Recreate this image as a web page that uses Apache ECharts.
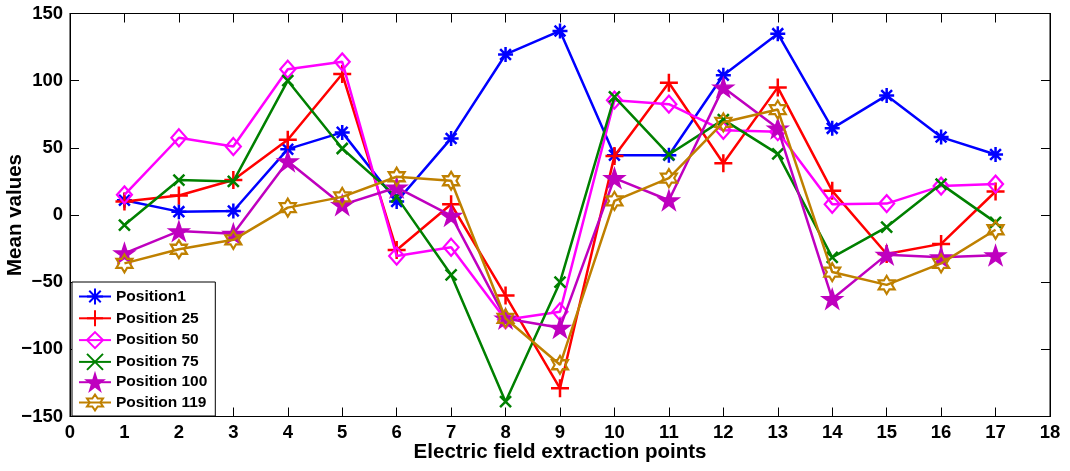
<!DOCTYPE html>
<html>
<head>
<meta charset="utf-8">
<script src="https://cdn.jsdelivr.net/npm/echarts@6/dist/echarts.min.js"></script>
<style>
  html, body { margin: 0; padding: 0; background: #ffffff; }
  #chart { width: 1070px; height: 471px; }
</style>
</head>
<body>
<div id="chart"></div>
<script>
// Electric field extraction points (x positions)
const extractionPoints = [1, 2, 3, 4, 5, 6, 7, 8, 9, 10, 11, 12, 13, 14, 15, 16, 17];

// Mean values per position
const position1   = [11, 2.5, 3, 49, 61.5, 10, 57, 119.5, 137, 44.5, 44.5, 104, 135, 64.5, 89, 58, 45];
const position25  = [10, 14.5, 26, 56, 105, -26, 8, -60, -129, 44, 98.5, 38.5, 95, 18, -29, -21.5, 17.5];
const position50  = [15, 57.5, 51, 108.5, 114, -30.5, -24, -78, -72, 85.5, 82.5, 63, 62, 8, 8.5, 21.5, 23];
const position75  = [-7.5, 26, 25, 100, 49.5, 13.5, -44.5, -139, -50, 88, 45, 71, 45.5, -31.5, -9, 23, -5.5];
const position100 = [-28.5, -12, -14, 40, 7.5, 20.5, -0.5, -77, -84, 27.5, 11, 95, 64.5, -62.5, -29.5, -31.5, -30];
const position119 = [-36, -25.5, -18.5, 5.5, 13.5, 28.5, 25.5, -77, -111.5, 10.5, 27.5, 69, 78.5, -42.5, -52, -36, -11];

const seriesNames = ['Position1', 'Position 25', 'Position 50', 'Position 75', 'Position 100', 'Position 119'];
const seriesValues = [position1, position25, position50, position75, position100, position119];

// Axis ranges / tick steps
const xRange = [0, 18, 1];
const yRange = [-150, 150, 50];

// Marker outlines
function starPath(points, inner, startDeg) {
  const pts = [];
  for (let k = 0; k < points * 2; k++) {
    const r = k % 2 === 0 ? 1 : inner;
    const a = (startDeg + k * 180 / points) * Math.PI / 180;
    pts.push((r * Math.cos(a)).toFixed(4) + ',' + (r * Math.sin(a)).toFixed(4));
  }
  return 'path://M' + pts.join('L') + 'Z';
}
const colors = ['#0000ff', '#ff0000', '#ff00ff', '#008000', '#bf00bf', '#bf8000'];
const markers = [
  { symbol: 'path://M0,-1L0,1M-1,0L1,0M-0.72,-0.72L0.72,0.72M-0.72,0.72L0.72,-0.72', size: [15, 15], fill: 'none', width: 2.5 },
  { symbol: 'path://M0,-1L0,1M-1,0L1,0', size: [18, 18], fill: 'none', width: 2.5 },
  { symbol: 'path://M0,-1L1,0L0,1L-1,0Z', size: [15, 17], fill: 'none', width: 2.2 },
  { symbol: 'path://M-1,-1L1,1M-1,1L1,-1', size: [11, 11], fill: 'none', width: 2.5 },
  { symbol: starPath(5, 0.382, -90), size: [20, 19], fill: colors[4], width: 1.5 },
  { symbol: starPath(6, 0.577, -90), size: [16, 18], fill: 'none', width: 2.2 }
];

const font = "'Liberation Sans', Arial, Helvetica, sans-serif";

const series = seriesNames.map((name, i) => ({
  name: name,
  type: 'line',
  data: extractionPoints.map((x, j) => [x, seriesValues[i][j]]),
  symbol: markers[i].symbol,
  symbolSize: markers[i].size,
  showAllSymbol: true,
  lineStyle: { color: colors[i], width: 2.5 },
  itemStyle: { color: markers[i].fill, borderColor: colors[i], borderWidth: markers[i].width },
  emphasis: { disabled: true },
  z: 2 + i
}));

const axisLabelStyle = {
  fontFamily: font, fontWeight: 'bold', fontSize: 18.5, color: '#000',
  formatter: v => String(v).replace('-', '\u2212')
};
const axisNameStyle = { fontFamily: font, fontWeight: 'bold', fontSize: 20.5, color: '#000' };

const chart = echarts.init(document.getElementById('chart'), null, { renderer: 'canvas' });
chart.setOption({
  animation: false,
  backgroundColor: '#ffffff',
  grid: {
    left: 70, top: 13.5, right: 20, bottom: 54.5,
    outerBoundsMode: 'none', containLabel: false,
    show: true, borderColor: '#000', borderWidth: 1, backgroundColor: 'transparent'
  },
  legend: {
    orient: 'vertical',
    left: 72, top: 282,
    padding: [4, 8, 3, 6],
    itemWidth: 32, itemHeight: 20, itemGap: 0.8,
    backgroundColor: '#ffffff',
    borderColor: '#000', borderWidth: 1,
    textStyle: { fontFamily: font, fontWeight: 'bold', fontSize: 15.5, color: '#000' },
    data: seriesNames
  },
  xAxis: [{
    type: 'value', min: xRange[0], max: xRange[1], interval: xRange[2],
    position: 'bottom',
    name: 'Electric field extraction points', nameLocation: 'middle', nameGap: 25,
    nameMoveOverlap: false,
    nameTextStyle: axisNameStyle,
    axisLine: { show: true, onZero: false, lineStyle: { color: '#000', width: 1 } },
    axisTick: { show: true, inside: true, length: 9, lineStyle: { color: '#000' } },
    axisLabel: Object.assign({ margin: 7 }, axisLabelStyle),
    splitLine: { show: false }
  }, {
    type: 'value', min: xRange[0], max: xRange[1], interval: xRange[2],
    position: 'top',
    axisLine: { show: true, onZero: false, lineStyle: { color: '#000', width: 1 } },
    axisTick: { show: true, inside: true, length: 9, lineStyle: { color: '#000' } },
    axisLabel: { show: false },
    splitLine: { show: false }
  }],
  yAxis: [{
    type: 'value', min: yRange[0], max: yRange[1], interval: yRange[2],
    position: 'left',
    name: 'Mean values', nameLocation: 'middle', nameGap: 44,
    nameMoveOverlap: false,
    nameTextStyle: axisNameStyle,
    axisLine: { show: true, onZero: false, lineStyle: { color: '#000', width: 1 } },
    axisTick: { show: true, inside: true, length: 9, lineStyle: { color: '#000' } },
    axisLabel: Object.assign({ margin: 7 }, axisLabelStyle),
    splitLine: { show: false }
  }, {
    type: 'value', min: yRange[0], max: yRange[1], interval: yRange[2],
    position: 'right',
    axisLine: { show: true, onZero: false, lineStyle: { color: '#000', width: 1 } },
    axisTick: { show: true, inside: true, length: 9, lineStyle: { color: '#000' } },
    axisLabel: { show: false },
    splitLine: { show: false }
  }],
  series: series
});
</script>
</body>
</html>
